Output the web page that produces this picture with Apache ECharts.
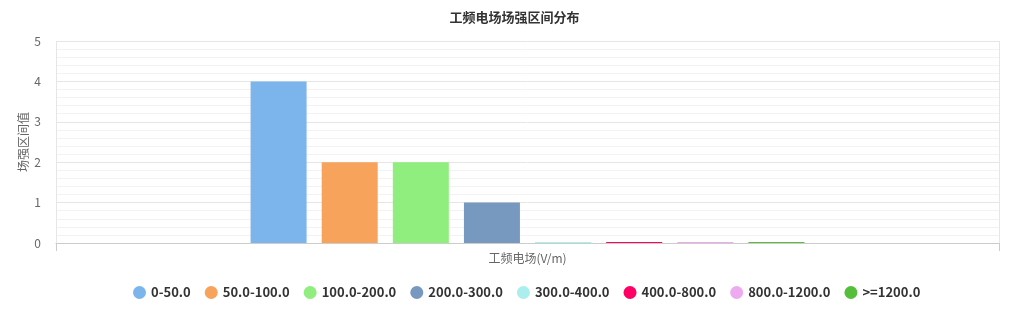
<!DOCTYPE html>
<html><head><meta charset="utf-8">
<script src="https://cdn.jsdelivr.net/npm/echarts@6/dist/echarts.min.js"></script>
<style>html,body{margin:0;padding:0;background:#fff}#c{width:1029px;height:320px}</style>
</head><body><div id="c"></div>
<script>
const categories = [''];
const seriesNames = ['0-50.0','50.0-100.0','100.0-200.0','200.0-300.0','300.0-400.0','400.0-800.0','800.0-1200.0','>=1200.0'];
const seriesValues = [4, 2, 2, 1, 0, 0, 0, 0];
const colors = ['#7cb5ec','#f7a35c','#90ee7e','#7798BF','#aaeeee','#ff0066','#eeaaee','#55BF3B'];
const yTicks = [0,1,2,3,4,5];

const font = '"Microsoft YaHei","Noto Sans CJK SC",sans-serif';
const chart = echarts.init(document.getElementById('c'));
chart.setOption({
  animation: false,
  color: colors,
  textStyle: {fontFamily: font},
  title: {text: '工频电场场强区间分布', left: 'center', top: 6,
    textStyle: {fontSize: 13, fontWeight: 'bold', color: '#333', fontFamily: font}},
  legend: {bottom: 16, left: 128, icon: 'circle', itemWidth: 13, itemHeight: 13, itemGap: 14,
    data: seriesNames,
    textStyle: {fontSize: 13, fontWeight: 'bold', color: '#333', fontFamily: font}},
  grid: {left: 56, right: 30, top: 41, bottom: 77, containLabel: false},
  xAxis: {type: 'category', data: categories, name: '工频电场(V/m)', nameLocation: 'middle', nameGap: 9,
    nameMoveOverlap: false,
    nameTextStyle: {color: '#666', fontSize: 12},
    axisLine: {lineStyle: {color: '#ccc'}},
    axisTick: {show: true, length: 8, lineStyle: {color: '#ccc'}},
    axisLabel: {show: false},
    splitLine: {show: true, lineStyle: {color: '#e6e6e6'}}},
  yAxis: {type: 'value', min: yTicks[0], max: yTicks[yTicks.length-1], interval: 1,
    name: '场强区间值', nameLocation: 'middle', nameGap: 27, nameRotate: 90,
    nameMoveOverlap: false,
    nameTextStyle: {color: '#666', fontSize: 12},
    axisLine: {show: false}, axisTick: {show: false},
    axisLabel: {color: '#666', fontSize: 12, margin: 15},
    splitLine: {lineStyle: {color: '#e6e6e6'}},
    minorTick: {show: false, splitNumber: 5},
    minorSplitLine: {show: true, lineStyle: {color: '#f2f2f2'}}},
  series: seriesNames.map((n, i) => ({
    name: n, type: 'bar', data: [seriesValues[i]], barWidth: 56, barGap: '27%', barMinHeight: 1
  }))
});
</script></body></html>
